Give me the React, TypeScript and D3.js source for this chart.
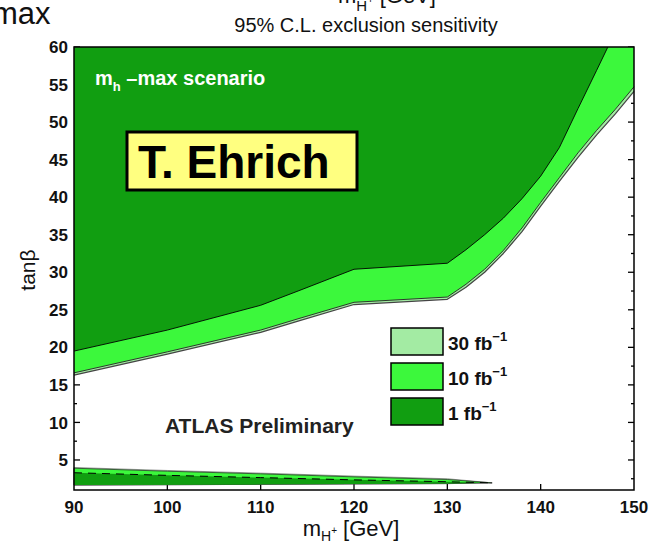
import { useEffect, useRef } from 'react'
import * as d3 from 'd3'

// axis setup
const massDomain = [90, 150]
const tanbDomain = [1, 60]
const massTicks = [90, 100, 110, 120, 130, 140, 150]
const tanbTicks = [5, 10, 15, 20, 25, 30, 35, 40, 45, 50, 55, 60]
const tanbMinor = [2.5, 7.5, 12.5, 17.5, 22.5, 27.5, 32.5, 37.5, 42.5, 47.5, 52.5, 57.5]

// high tan(beta) exclusion boundaries
const mass1fb = [90, 100, 110, 114, 120, 130, 132, 134, 136, 138, 140, 142, 144, 146, 147.2]
const tanb1fb = [19.5, 22.3, 25.6, 27.5, 30.4, 31.2, 33.0, 35.0, 37.2, 39.8, 42.8, 46.6, 51.8, 56.9, 60]
const massBand = [90, 100, 110, 114, 120, 130, 132, 134, 136, 138, 140, 142, 144, 146, 148, 150]
const tanb10fb = [16.6, 19.4, 22.3, 23.8, 26.0, 26.7, 28.4, 30.4, 32.9, 35.9, 39.3, 42.6, 45.9, 48.9, 51.7, 54.7]
const tanb30fb = [16.3, 19.1, 22.0, 23.5, 25.7, 26.4, 28.0, 30.0, 32.5, 35.4, 38.8, 42.1, 45.3, 48.3, 51.1, 54.1]

// low tan(beta) band
const massLow = [90, 100, 110, 120, 130, 134.8]
const low30fbTop = [4.0, 3.6, 3.25, 2.85, 2.5, 1.95]
const low10fbTop = [3.9, 3.5, 3.15, 2.75, 2.4, 1.95]
const low1fbTop = [3.3, 2.95, 2.65, 2.35, 2.1, 1.95]
const lowBottom = [1.65, 1.7, 1.75, 1.8, 1.85, 1.95]

const legendLabels = ['30', '10', '1']
const C_DARK = '#119e11'
const C_BRIGHT = '#3cf83c'
const C_LIGHT = '#a3eba3'
const legendColors = [C_LIGHT, C_BRIGHT, C_DARK]

const FONT = 'Liberation Sans, Arial, Helvetica, sans-serif'

export default function App() {
  const svgRef = useRef<SVGSVGElement>(null)

  useEffect(() => {
    if (!svgRef.current) return
    const W = 655
    const H = 543
    const left = 74, right = 634, top = 47, bottom = 490

    const svg = d3.select(svgRef.current)
    svg.selectAll('*').remove()
    svg.attr('viewBox', `0 0 ${W} ${H}`)

    const x = d3.scaleLinear().domain(massDomain).range([left, right])
    const y = d3.scaleLinear().domain(tanbDomain).range([bottom, top])

    svg.append('rect').attr('width', W).attr('height', H).attr('fill', '#fff')

    // ticks (inward, get covered by the filled regions)
    const tk = svg.append('g').attr('stroke', '#000').attr('stroke-width', 1.3)
    tanbTicks.forEach(t => {
      tk.append('line').attr('x1', left).attr('x2', left + 6).attr('y1', y(t)).attr('y2', y(t))
      tk.append('line').attr('x1', right).attr('x2', right - 6).attr('y1', y(t)).attr('y2', y(t))
    })
    tanbMinor.forEach(t => {
      tk.append('line').attr('x1', left).attr('x2', left + 3).attr('y1', y(t)).attr('y2', y(t))
      tk.append('line').attr('x1', right).attr('x2', right - 3).attr('y1', y(t)).attr('y2', y(t))
    })
    massTicks.slice(1, -1).forEach(m => {
      tk.append('line').attr('x1', x(m)).attr('x2', x(m)).attr('y1', bottom).attr('y2', bottom - 6)
      tk.append('line').attr('x1', x(m)).attr('x2', x(m)).attr('y1', top).attr('y2', top + 6)
    })

    const plot = svg.append('g')

    // upper regions: from boundary up to tanb = 60
    const upArea = (ms: number[], ts: number[]) =>
      d3.area<number>()
        .x((_, i) => x(ms[i]))
        .y0(y(60))
        .y1((d) => y(d))(ts)
    const upLine = (ms: number[], ts: number[]) =>
      d3.line<number>().x((_, i) => x(ms[i])).y(d => y(d))(ts)

    plot.append('path').attr('d', upArea(massBand, tanb30fb)).attr('fill', C_LIGHT)
    plot.append('path').attr('d', upArea(massBand, tanb10fb)).attr('fill', C_BRIGHT)
    plot.append('path').attr('d', upArea(mass1fb, tanb1fb)).attr('fill', C_DARK)
    plot.append('path').attr('d', upLine(massBand, tanb30fb)).attr('fill', 'none')
      .attr('stroke', '#444').attr('stroke-width', 1.2).attr('stroke-linejoin', 'round')
    plot.append('path').attr('d', upLine(massBand, tanb10fb)).attr('fill', 'none')
      .attr('stroke', '#222').attr('stroke-width', 0.9).attr('stroke-linejoin', 'round')
    plot.append('path').attr('d', upLine(mass1fb, tanb1fb)).attr('fill', 'none')
      .attr('stroke', '#000').attr('stroke-width', 0.9).attr('stroke-linejoin', 'round')

    // low tan(beta) band
    const lowArea = (tops: number[]) =>
      d3.area<number>()
        .x((_, i) => x(massLow[i]))
        .y0((_, i) => y(lowBottom[i]))
        .y1(d => y(d))(tops)
    plot.append('path').attr('d', lowArea(low30fbTop)).attr('fill', C_LIGHT)
      .attr('stroke', '#777').attr('stroke-width', 0.7)
    plot.append('path').attr('d', lowArea(low10fbTop)).attr('fill', C_BRIGHT)
      .attr('stroke', '#222').attr('stroke-width', 0.7)
    plot.append('path').attr('d', lowArea(low1fbTop)).attr('fill', C_DARK)
    plot.append('path')
      .attr('d', d3.line<number>().x((_, i) => x(massLow[i])).y(d => y(d))(low1fbTop))
      .attr('fill', 'none').attr('stroke', '#000').attr('stroke-width', 1)
      .attr('stroke-dasharray', '8 6')

    // frame
    svg.append('rect')
      .attr('x', left).attr('y', top).attr('width', right - left).attr('height', bottom - top)
      .attr('fill', 'none').attr('stroke', '#000').attr('stroke-width', 1.5)

    // tick labels
    svg.append('g').selectAll('text').data(tanbTicks).join('text')
      .attr('x', 68).attr('y', d => y(d)).attr('dy', '0.36em')
      .attr('text-anchor', 'end')
      .attr('font-family', FONT).attr('font-weight', 'bold').attr('font-size', 17)
      .attr('fill', '#111')
      .text(d => d)
    svg.append('g').selectAll('text').data(massTicks).join('text')
      .attr('x', d => x(d)).attr('y', 513)
      .attr('text-anchor', 'middle')
      .attr('font-family', FONT).attr('font-weight', 'bold').attr('font-size', 17)
      .attr('fill', '#111')
      .text(d => d)

    // axis titles
    const xl = svg.append('text').attr('x', 351).attr('y', 536)
      .attr('text-anchor', 'middle').attr('font-family', FONT).attr('font-size', 22).attr('fill', '#111')
    xl.append('tspan').text('m')
    xl.append('tspan').attr('font-size', 14).attr('dy', 5).text('H')
    xl.append('tspan').attr('font-size', 10).attr('dy', -7).text('+')
    xl.append('tspan').attr('dy', 2).text(' [GeV]')

    svg.append('text')
      .attr('transform', 'translate(35,270) rotate(-90)')
      .attr('text-anchor', 'middle').attr('font-family', FONT).attr('font-size', 21).attr('fill', '#111')
      .text('tanβ')

    svg.append('text').attr('x', 366).attr('y', 32)
      .attr('text-anchor', 'middle').attr('font-family', FONT).attr('font-size', 20).attr('fill', '#111')
      .text('95% C.L. exclusion sensitivity')

    // cropped slide text at the very top
    svg.append('text').attr('x', -8).attr('y', 24)
      .attr('font-family', FONT).attr('font-size', 31).attr('fill', '#111')
      .text('max')
    const tt = svg.append('text').attr('x', 338).attr('y', 3)
      .attr('font-family', FONT).attr('font-size', 22).attr('fill', '#111')
    tt.append('tspan').text('m')
    tt.append('tspan').attr('font-size', 15).attr('dy', 8).text('H')
    tt.append('tspan').attr('font-size', 11).attr('dy', -8).text('+')
    tt.append('tspan').attr('dy', 0).text(' [GeV]')

    // scenario label
    const sc = svg.append('text').attr('x', 95).attr('y', 85)
      .attr('font-family', FONT).attr('font-weight', 'bold').attr('font-size', 20).attr('fill', '#fff')
    sc.append('tspan').text('m')
    sc.append('tspan').attr('font-size', 13).attr('dy', 6).text('h')
    sc.append('tspan').attr('dy', -6).text(' –max scenario')

    // author box
    svg.append('rect').attr('x', 127).attr('y', 132).attr('width', 230).attr('height', 58)
      .attr('fill', '#ffff80').attr('stroke', '#000').attr('stroke-width', 3)
    svg.append('text').attr('x', 138).attr('y', 178)
      .attr('font-family', FONT).attr('font-weight', 'bold').attr('font-size', 46).attr('fill', '#000')
      .text('T. Ehrich')

    svg.append('text').attr('x', 165).attr('y', 433)
      .attr('font-family', FONT).attr('font-weight', 'bold').attr('font-size', 21).attr('fill', '#222')
      .text('ATLAS Preliminary')

    // legend
    const lg = svg.append('g')
    legendLabels.forEach((lab, i) => {
      const yy = 328 + i * 35
      lg.append('rect').attr('x', 391).attr('y', yy).attr('width', 52).attr('height', 27)
        .attr('fill', legendColors[i]).attr('stroke', '#000').attr('stroke-width', 1.5)
      const t = lg.append('text').attr('x', 448).attr('y', yy + 22)
        .attr('font-family', FONT).attr('font-weight', 'bold').attr('font-size', 19).attr('fill', '#111')
      t.append('tspan').text(`${lab} fb`)
      t.append('tspan').attr('font-size', 13).attr('dy', -9).text('−1')
    })
  }, [])

  return (
    <svg
      ref={svgRef}
      width={655}
      height={543}
      style={{ position: 'absolute', left: 0, top: 0, display: 'block' }}
    />
  )
}
